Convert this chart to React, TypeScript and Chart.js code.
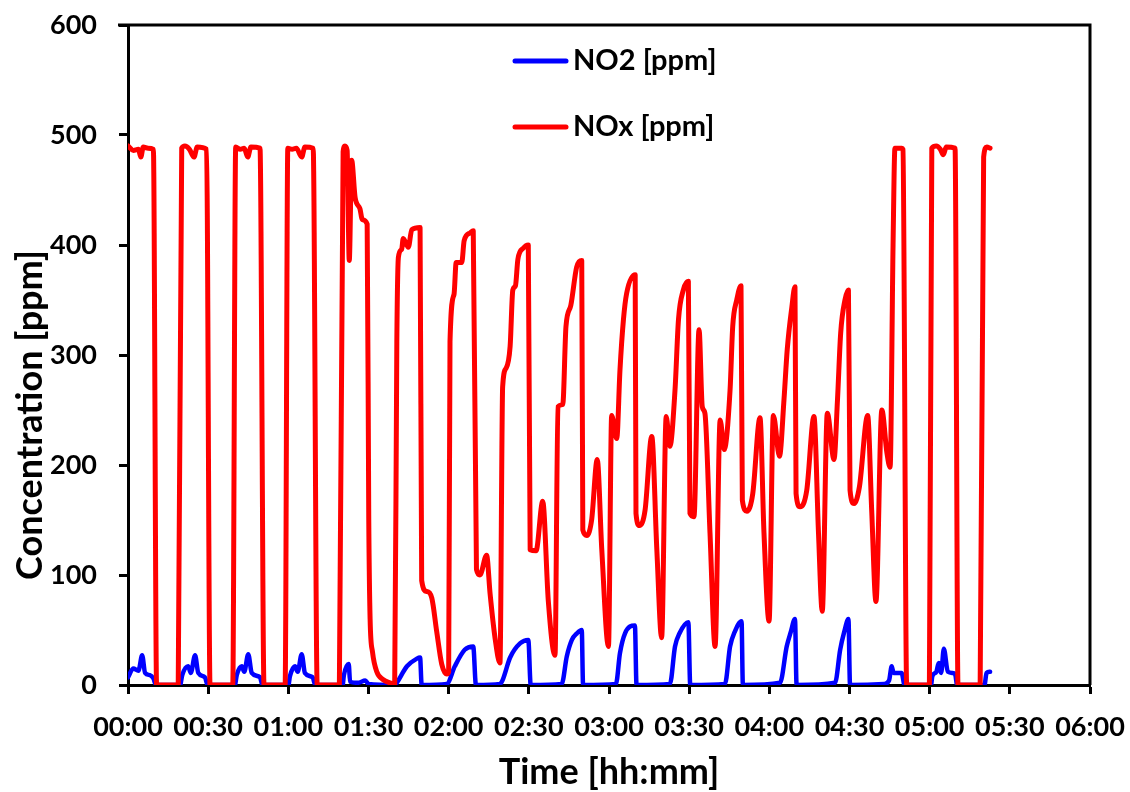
import React, { useEffect, useRef } from "react";
import { Chart, registerables } from "chart.js";

Chart.register(...registerables);

// ---- data (time in minutes since 00:00, concentration in ppm) ----
const noxMinutes = [
  0, 2, 3.9, 4.8, 5.7, 7.5, 9.5, 10.7, 18.8, 20.1, 21.3, 23, 24.7, 25.9, 29.4, 30.7,
  39.2, 40.3, 42, 43.5, 44.8, 46, 49.4, 50.9, 58.8, 59.8, 61.4, 63, 65, 66.2, 69.3, 70.8,
  79.1, 80.5, 81.2, 82.0, 82.8, 83.7, 85, 86.8, 87.7, 89.5, 90.1, 90.6, 91.5, 93.1, 95.4, 98, 99.8,
  100.6, 101.2, 102.4, 103, 104.9, 106.2, 109.3, 109.9, 111.8, 113.7, 115.5, 117.4, 119.3, 120.0,
  120.5, 122, 122.8, 124.9, 125.8, 128, 129.2, 130.4, 131.7, 134.2, 135.5, 137.4, 139.2,
  140.2, 141.5, 143, 144, 145, 145.9, 147.9, 149.8, 150.5, 152.7, 155.2, 157.3, 159.8,
  160.9, 162.7, 163.9, 165.7, 167.9, 169.8, 170.2, 171.7, 173.5, 175.6, 177.3, 179.8,
  181, 182.9, 184.1, 185.4, 186.6, 189.8, 190.1, 191.4, 193.5, 196, 197.9, 199.7,
  201.4, 202.8, 204.7, 206, 207.8, 209.7, 210.3, 211.8, 213.7, 214.9, 215.9, 217.8, 219.7,
  221.6, 223.1, 225.3, 226.3, 227.8, 229.4, 229.9, 231.6, 233.8, 236.5, 238, 239.9,
  241.5, 243.8, 245.5, 246.7, 248.4, 249.6, 250, 251.5, 254, 256.7, 258.4, 259.8,
  261.7, 264.2, 265.5, 266.7, 268.3, 269.6, 270.2, 271.7, 273.7, 276.8, 278.3, 279.9,
  282.1, 284, 285.2, 286.3, 287, 289.6, 290, 291.4, 299.9, 300.8, 302.5, 304, 305.1, 306.2,
  309.5, 310.6, 318.9, 320.2, 321.4, 322.6,
];
const noxPpm = [
  490, 486, 487, 480, 489, 488, 487, 0, 0, 488, 490, 487, 480, 489, 487, 0,
  0, 489, 487, 488, 480, 489, 488, 0, 0, 488, 487, 488, 480, 489, 488, 0,
  0, 485, 490, 486, 386, 477, 443, 433, 423, 419, 150, 60, 30, 12, 5, 2, 1,
  312, 389, 396, 406, 398, 414, 416, 95, 85, 79, 49, 19, 10, 12,
  312, 355, 384, 384, 404, 411, 413, 105, 100, 118, 83, 42, 20,
  271, 288, 308, 359, 363, 387, 397, 400, 123, 122, 167, 76, 27,
  253, 255, 326, 345, 380, 386, 141, 136, 150, 205, 123, 35,
  245, 224, 286, 332, 356, 373, 156, 145, 159, 226, 123, 43,
  244, 217, 268, 332, 359, 367, 156, 153, 323, 253, 247, 138, 35,
  241, 214, 268, 326, 350, 363, 168, 158, 174, 243, 138, 58,
  245, 208, 260, 305, 343, 362, 174, 162, 177, 244, 138, 67,
  247, 205, 259, 320, 350, 359, 177, 165, 180, 245, 159, 76,
  250, 211, 198, 400, 488, 488, 487, 0, 0, 488, 490, 487, 482, 489,
  488, 0, 0, 480, 489, 488,
];

const no2Minutes = [
  0, 2, 3.9, 5.3, 6.4, 8.2, 9.5, 10.5, 19.5, 20.3, 22.5, 23.5, 25.1, 26.3, 28.8, 29.8,
  40, 40.7, 42.6, 43.5, 45, 46.3, 49.4, 50.3, 60, 60.6, 62.5, 63.5, 65, 66.2, 69.1, 70.1,
  80.3, 80.8, 82.6, 83.1, 86, 88.8, 90, 100, 100.6, 104.4, 108.1, 109.3, 109.9,
  119.3, 122.3, 126, 129.2, 130.2, 139.2, 140.1, 143, 146.8, 149.8, 150.7,
  162.3, 164.2, 166.1, 168, 169.8, 170.3, 182.6, 184.1, 186, 189.7, 190.3,
  202.8, 204.7, 206.4, 209.7, 210.4, 223.4, 225.3, 227, 229.6, 230.1,
  244, 246.5, 248, 249.6, 250.2, 264.6, 266.5, 268, 269.6, 270.2,
  283, 284.8, 285.8, 286.5, 289.5, 290.6, 300.5, 301, 302.5, 303.4, 304.3, 305.3, 306.8,
  308.5, 309.5, 310.3, 320.5, 321.3, 322.6,
];
const no2Ppm = [
  7, 15, 13, 27, 11, 9, 6, 0, 0, 9, 17, 11, 27, 11, 7, 0,
  0, 9, 17, 12, 28, 11, 7, 0, 0, 8, 17, 12, 28, 11, 7, 0,
  0, 9, 19, 3, 2, 4, 1, 0, 2, 17, 24, 25, 0,
  1, 17, 32, 35, 0, 1, 4, 25, 38, 41, 0,
  1, 26, 41, 47, 50, 0, 1, 29, 47, 54, 0,
  1, 35, 47, 57, 0, 1, 35, 48, 58, 0,
  2, 35, 48, 60, 0, 2, 32, 48, 60, 0,
  1, 4, 17, 11, 11, 0, 0, 8, 12, 20, 11, 33, 12,
  11, 10, 0, 0, 11, 12,
];

const xMin = 0;
const xMax = 360;
const xStep = 30;
const yMin = 0;
const yMax = 600;
const yStep = 100;

const seriesLabels = ["NO2 [ppm]", "NOx [ppm]"];
const seriesColors = ["#0000FF", "#FF0000"];
const xTitle = "Time [hh:mm]";
const yTitle = "Concentration [ppm]";

const FONT = "Lato";

function hhmm(v: number): string {
  const h = Math.floor(v / 60);
  const m = Math.round(v - h * 60);
  return String(h).padStart(2, "0") + ":" + String(m).padStart(2, "0");
}

function noScalePadding(s: any) {
  s.paddingLeft = 0;
  s.paddingRight = 0;
  s.paddingTop = 0;
  s.paddingBottom = 0;
}

export default function App() {
  const ref = useRef<HTMLCanvasElement | null>(null);

  useEffect(() => {
    document.body.style.margin = "0";
    const canvas = ref.current;
    if (!canvas) return;

    const framePlugin = {
      id: "frameAndLegend",
      afterDraw(chart: any) {
        const ctx = chart.ctx as CanvasRenderingContext2D;
        const { left, top, right, bottom } = chart.chartArea;
        ctx.save();
        ctx.strokeStyle = "#000";
        ctx.lineWidth = 3;
        ctx.beginPath();
        ctx.moveTo(left - 10, top);
        ctx.lineTo(right + 1.5, top);
        ctx.moveTo(right, top);
        ctx.lineTo(right, bottom);
        ctx.stroke();

        // y-axis title (sits below the plot centre, as in the original)
        ctx.save();
        ctx.translate(30, 415);
        ctx.rotate(-Math.PI / 2);
        ctx.font = `bold 36px ${FONT}`;
        ctx.fillStyle = "#000";
        ctx.textAlign = "center";
        ctx.textBaseline = "middle";
        ctx.fillText(yTitle, 0, 0);
        ctx.restore();

        // legend inside the plot area
        const rows = [61, 127];
        const ds = chart.data.datasets;
        ctx.font = `bold 29px ${FONT}`;
        ctx.textBaseline = "middle";
        ctx.textAlign = "left";
        for (let i = 0; i < ds.length; i++) {
          const y = rows[i];
          ctx.strokeStyle = ds[i].borderColor;
          ctx.lineWidth = 5;
          ctx.lineCap = "round";
          ctx.beginPath();
          ctx.moveTo(515, y);
          ctx.lineTo(566, y);
          ctx.stroke();
          ctx.fillStyle = "#000";
          ctx.fillText(ds[i].label, 573, y);
        }
        ctx.restore();
      },
    };

    const chart = new Chart(canvas, {
      type: "line",
      data: {
        datasets: [
          {
            label: seriesLabels[0],
            data: no2Minutes.map((t, i) => ({ x: t, y: no2Ppm[i] })),
            borderColor: seriesColors[0],
            backgroundColor: seriesColors[0],
            borderWidth: 4.5,
            borderJoinStyle: "round",
            borderCapStyle: "round",
            pointRadius: 0,
            cubicInterpolationMode: "monotone",
            order: 1,
          },
          {
            label: seriesLabels[1],
            data: noxMinutes.map((t, i) => ({ x: t, y: noxPpm[i] })),
            borderColor: seriesColors[1],
            backgroundColor: seriesColors[1],
            borderWidth: 5,
            borderJoinStyle: "round",
            borderCapStyle: "round",
            pointRadius: 0,
            cubicInterpolationMode: "monotone",
            order: 0,
          },
        ],
      },
      options: {
        animation: false,
        responsive: false,
        devicePixelRatio: 1,
        layout: { padding: { left: 0, top: 25, right: 40, bottom: 0 } },
        plugins: {
          legend: { display: false },
          tooltip: { enabled: false },
        },
        scales: {
          x: {
            type: "linear",
            min: xMin,
            max: xMax,
            afterFit: (s: any) => {
              s.height = 107;
              noScalePadding(s);
            },
            ticks: {
              stepSize: xStep,
              autoSkip: false,
              maxRotation: 0,
              minRotation: 0,
              padding: 17,
              color: "#000",
              font: { family: FONT, size: 27, weight: "bold" },
              callback: (v: any) => hhmm(Number(v)),
            },
            grid: {
              drawOnChartArea: false,
              drawTicks: true,
              tickLength: 9,
              tickWidth: 3,
              color: "#000",
            },
            border: { display: true, color: "#000", width: 3 },
            title: {
              display: true,
              text: xTitle,
              color: "#000",
              font: { family: FONT, size: 36, weight: "bold", lineHeight: 1 },
              padding: { top: 0, bottom: 2 },
            },
          },
          y: {
            min: yMin,
            max: yMax,
            afterFit: (s: any) => {
              s.width = 128;
              noScalePadding(s);
            },
            ticks: {
              stepSize: yStep,
              padding: 22,
              color: "#000",
              font: { family: FONT, size: 27, weight: "bold" },
            },
            grid: {
              drawOnChartArea: false,
              drawTicks: true,
              tickLength: 9,
              tickWidth: 3,
              color: "#000",
            },
            border: { display: true, color: "#000", width: 3 },
            title: { display: false, text: yTitle },
          },
        },
      },
      plugins: [framePlugin],
    } as any);

    return () => chart.destroy();
  }, []);

  return (
    <div style={{ width: 1130, height: 792, background: "#fff" }}>
      <canvas ref={ref} width={1130} height={792} style={{ display: "block" }} />
    </div>
  );
}
